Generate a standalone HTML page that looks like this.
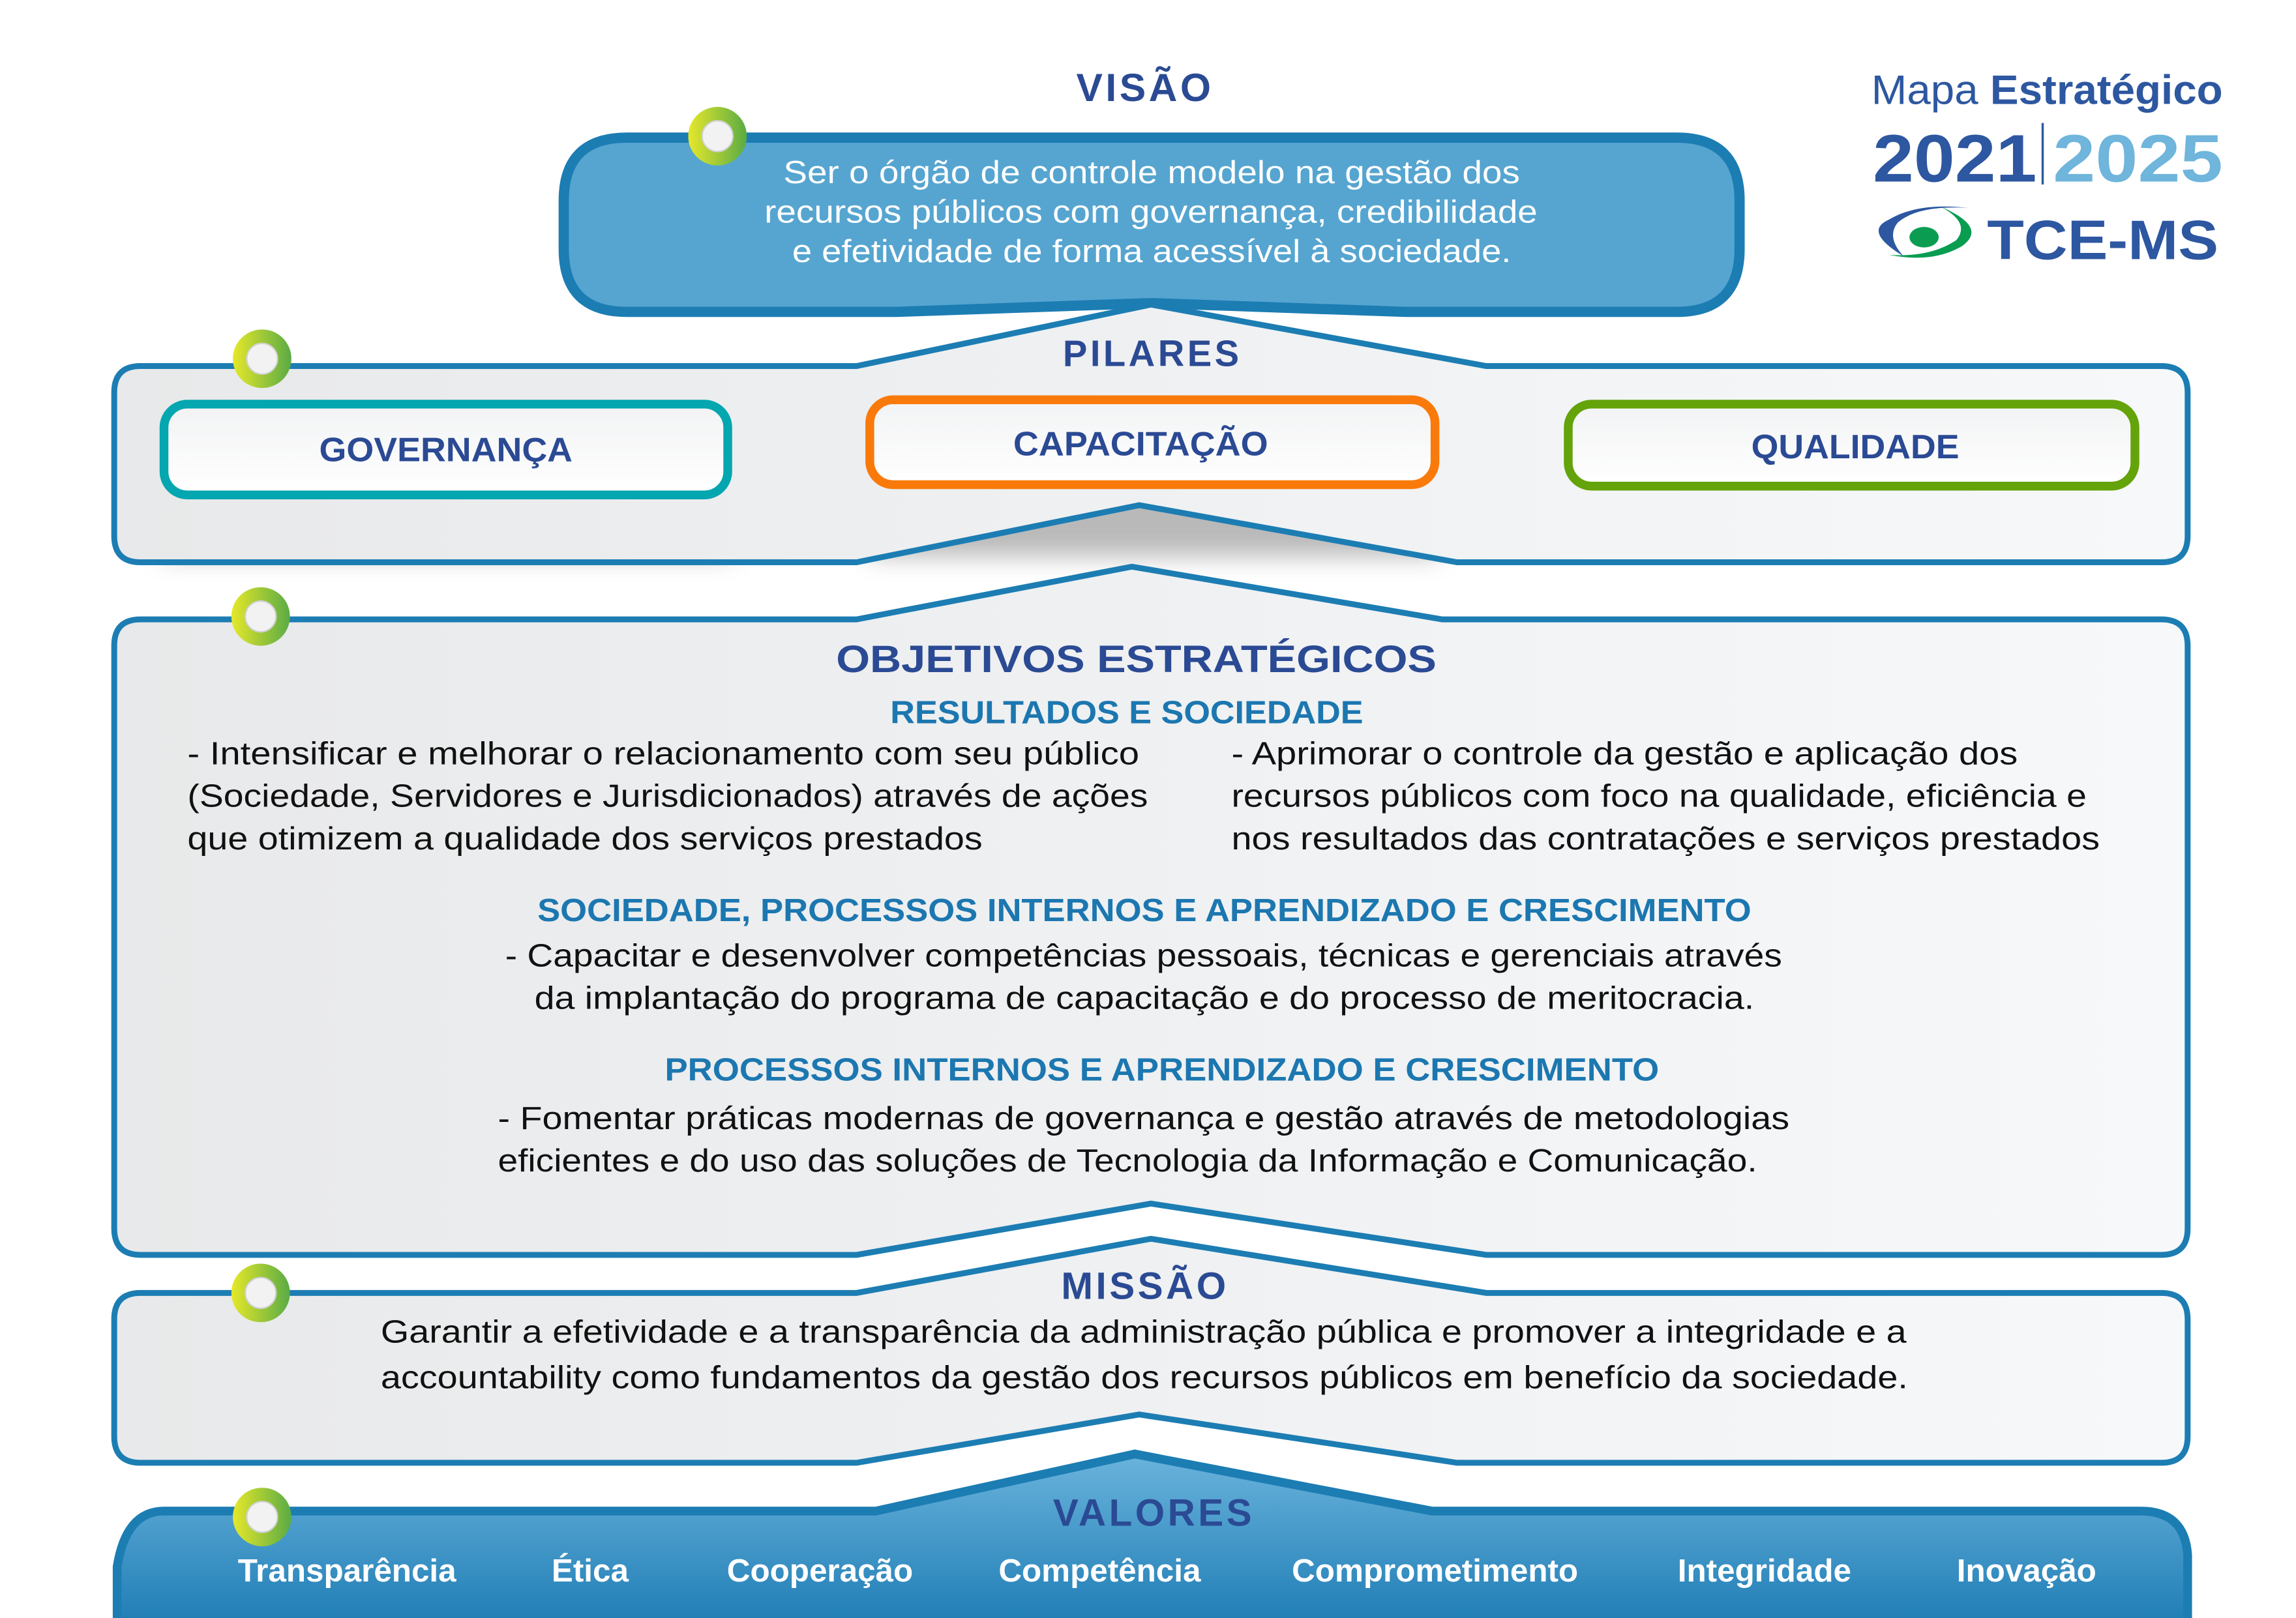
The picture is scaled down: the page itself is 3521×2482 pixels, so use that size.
<!DOCTYPE html>
<html><head><meta charset="utf-8"><style>html,body{margin:0;padding:0;background:#fff}svg{display:block}</style></head>
<body>
<svg xmlns="http://www.w3.org/2000/svg" width="3521" height="2482" viewBox="0 0 1568 1105" preserveAspectRatio="none" font-family="'Liberation Sans', sans-serif">
<defs>
<linearGradient id="pan" x1="0" y1="0" x2="1" y2="0"><stop offset="0" stop-color="#e8e9ea"/><stop offset="1" stop-color="#f6f8fa"/></linearGradient>
<linearGradient id="val" x1="0" y1="0" x2="0" y2="1"><stop offset="0" stop-color="#6ab3dc"/><stop offset="1" stop-color="#1f7db5"/></linearGradient>
<linearGradient id="ring" x1="0" y1="0" x2="1" y2="0"><stop offset="0" stop-color="#e6e82a"/><stop offset="1" stop-color="#5aab45"/></linearGradient>
<linearGradient id="pill" x1="0" y1="0" x2="0" y2="1"><stop offset="0" stop-color="#f2f3f4"/><stop offset="1" stop-color="#ffffff"/></linearGradient>
<filter id="sh" x="-10%" y="-10%" width="120%" height="160%"><feGaussianBlur stdDeviation="8"/></filter>
<symbol id="r" viewBox="-20 -20 40 40"><circle r="20" fill="url(#ring)"/><circle r="10.5" fill="#f2f2f2" stroke="#d0d0d0" stroke-width="1"/></symbol>
</defs>

<rect x="110" y="310" width="390" height="70" fill="#a8a8a8" filter="url(#sh)" opacity="0.8"/>
<rect x="593" y="305" width="390" height="75" fill="#a8a8a8" filter="url(#sh)" opacity="0.8"/>
<rect x="1070" y="310" width="390" height="50" fill="#bbb" filter="url(#sh)" opacity="0.6"/>

<text x="782" y="69" text-anchor="middle" font-size="27" font-weight="bold" fill="#2b4a94" letter-spacing="2">VISÃO</text>
<path d="M428 94 H1145 Q1188 94 1188 137 V170 Q1188 213 1145 213 H960 L786 207 L612 213 H428 Q385 213 385 170 V137 Q385 94 428 94 Z" fill="#56a5d0" stroke="#1c7db3" stroke-width="7"/>
<g fill="#fff" font-size="22">
<text x="535" y="125" textLength="503" lengthAdjust="spacingAndGlyphs">Ser o órgão de controle modelo na gestão dos</text>
<text x="522" y="152" textLength="528" lengthAdjust="spacingAndGlyphs">recursos públicos com governança, credibilidade</text>
<text x="541" y="179" textLength="491" lengthAdjust="spacingAndGlyphs">e efetividade de forma acessível à sociedade.</text>
</g>
<use href="#r" x="470" y="73" width="40" height="40"/>

<path d="M96 250 H585 L786 208 L1015 250 H1476 Q1494 250 1494 268 V366 Q1494 384 1476 384 H995 L778 345 L585 384 H96 Q78 384 78 366 V268 Q78 250 96 250 Z" fill="url(#pan)" stroke="#1c7db3" stroke-width="4"/>
<text x="787" y="250" text-anchor="middle" font-size="25" font-weight="bold" fill="#2b4a94" letter-spacing="2">PILARES</text>
<rect x="112" y="276" width="385" height="62" rx="16" fill="url(#pill)" stroke="#04a6b0" stroke-width="6"/>
<rect x="594" y="273" width="386" height="58" rx="16" fill="url(#pill)" stroke="#f97a0a" stroke-width="6"/>
<rect x="1071" y="276" width="387" height="56" rx="16" fill="url(#pill)" stroke="#64a30a" stroke-width="6"/>
<g font-size="23" font-weight="bold" fill="#2b4a94">
<text x="218" y="315" textLength="173" lengthAdjust="spacingAndGlyphs">GOVERNANÇA</text>
<text x="692" y="311" textLength="174" lengthAdjust="spacingAndGlyphs">CAPACITAÇÃO</text>
<text x="1196" y="313" textLength="142" lengthAdjust="spacingAndGlyphs">QUALIDADE</text>
</g>
<use href="#r" x="159" y="225" width="40" height="40"/>

<path d="M96 423 H585 L773 387 L985 423 H1476 Q1494 423 1494 441 V839 Q1494 857 1476 857 H1015 L786 822 L585 857 H96 Q78 857 78 839 V441 Q78 423 96 423 Z" fill="url(#pan)" stroke="#1c7db3" stroke-width="4"/>
<text x="571" y="459" font-size="26" font-weight="bold" fill="#2b4a94" textLength="410" lengthAdjust="spacingAndGlyphs">OBJETIVOS ESTRATÉGICOS</text>
<g font-size="22" font-weight="bold" fill="#1c77b0">
<text x="608" y="494" textLength="323" lengthAdjust="spacingAndGlyphs">RESULTADOS E SOCIEDADE</text>
<text x="367" y="629" textLength="829" lengthAdjust="spacingAndGlyphs">SOCIEDADE, PROCESSOS INTERNOS E APRENDIZADO E CRESCIMENTO</text>
<text x="454" y="738" textLength="679" lengthAdjust="spacingAndGlyphs">PROCESSOS INTERNOS E APRENDIZADO E CRESCIMENTO</text>
</g>
<g font-size="22" fill="#111">
<text x="128" y="522" textLength="650" lengthAdjust="spacingAndGlyphs">- Intensificar e melhorar o relacionamento com seu público</text>
<text x="128" y="551" textLength="656" lengthAdjust="spacingAndGlyphs">(Sociedade, Servidores e Jurisdicionados) através de ações</text>
<text x="128" y="580" textLength="543" lengthAdjust="spacingAndGlyphs">que otimizem a qualidade dos serviços prestados</text>
<text x="841" y="522" textLength="537" lengthAdjust="spacingAndGlyphs">- Aprimorar o controle da gestão e aplicação dos</text>
<text x="841" y="551" textLength="584" lengthAdjust="spacingAndGlyphs">recursos públicos com foco na qualidade, eficiência e</text>
<text x="841" y="580" textLength="593" lengthAdjust="spacingAndGlyphs">nos resultados das contratações e serviços prestados</text>
<text x="345" y="660" textLength="872" lengthAdjust="spacingAndGlyphs">- Capacitar e desenvolver competências pessoais, técnicas e gerenciais através</text>
<text x="365" y="689" textLength="833" lengthAdjust="spacingAndGlyphs">da implantação do programa de capacitação e do processo de meritocracia.</text>
<text x="340" y="771" textLength="882" lengthAdjust="spacingAndGlyphs">- Fomentar práticas modernas de governança e gestão através de metodologias</text>
<text x="340" y="800" textLength="860" lengthAdjust="spacingAndGlyphs">eficientes e do uso das soluções de Tecnologia da Informação e Comunicação.</text>
</g>
<use href="#r" x="158" y="401" width="40" height="40"/>

<path d="M96 883 H585 L786 846 L1015 883 H1476 Q1494 883 1494 901 V981 Q1494 999 1476 999 H995 L778 966 L585 999 H96 Q78 999 78 981 V901 Q78 883 96 883 Z" fill="url(#pan)" stroke="#1c7db3" stroke-width="4"/>
<text x="782" y="887" text-anchor="middle" font-size="26" font-weight="bold" fill="#2b4a94" letter-spacing="2">MISSÃO</text>
<g font-size="22" fill="#111">
<text x="260" y="917" textLength="1042" lengthAdjust="spacingAndGlyphs">Garantir a efetividade e a transparência da administração pública e promover a integridade e a</text>
<text x="260" y="948" textLength="1043" lengthAdjust="spacingAndGlyphs">accountability como fundamentos da gestão dos recursos públicos em benefício da sociedade.</text>
</g>
<use href="#r" x="158" y="863" width="40" height="40"/>

<path d="M112 1032 H598 L775 993 L978 1032 H1462 Q1492 1032 1494 1062 V1110 H80 V1070 Q86 1032 112 1032 Z" fill="url(#val)" stroke="#1c7db3" stroke-width="6"/>
<text x="788" y="1042" text-anchor="middle" font-size="26" font-weight="bold" fill="#2b4a94" letter-spacing="2">VALORES</text>
<g font-size="22" font-weight="bold" fill="#fff" text-anchor="middle">
<text x="237" y="1080">Transparência</text>
<text x="403" y="1080">Ética</text>
<text x="560" y="1080">Cooperação</text>
<text x="751" y="1080">Competência</text>
<text x="980" y="1080">Comprometimento</text>
<text x="1205" y="1080">Integridade</text>
<text x="1384" y="1080">Inovação</text>
</g>
<use href="#r" x="159" y="1016" width="40" height="40"/>

<text x="1278" y="71" font-size="28" fill="#2d57a0" textLength="240" lengthAdjust="spacingAndGlyphs">Mapa <tspan font-weight="bold">Estratégico</tspan></text>
<text x="1279" y="124" font-size="46" font-weight="bold" fill="#2d57a0" textLength="112" lengthAdjust="spacingAndGlyphs">2021</text>
<line x1="1395" y1="84" x2="1395" y2="126" stroke="#2d57a0" stroke-width="1.5"/>
<text x="1402" y="124" font-size="46" font-weight="bold" fill="#6fb5dc" textLength="116" lengthAdjust="spacingAndGlyphs">2025</text>
<path d="M1300 175 Q1272 158 1290 150 Q1310 138 1344 142 Q1310 140 1296 152 Q1288 162 1300 175 Z" fill="#2d57a0"/>
<path d="M1325 141 Q1358 155 1340 168 Q1320 180 1290 174 Q1318 176 1336 164 Q1346 152 1325 141 Z" fill="#0a9d52"/>
<ellipse cx="1314" cy="162" rx="10" ry="7" fill="#0a9d52"/>
<text x="1357" y="177" font-size="38" font-weight="bold" fill="#2d57a0" textLength="158" lengthAdjust="spacingAndGlyphs">TCE-MS</text>
</svg>
</body></html>
